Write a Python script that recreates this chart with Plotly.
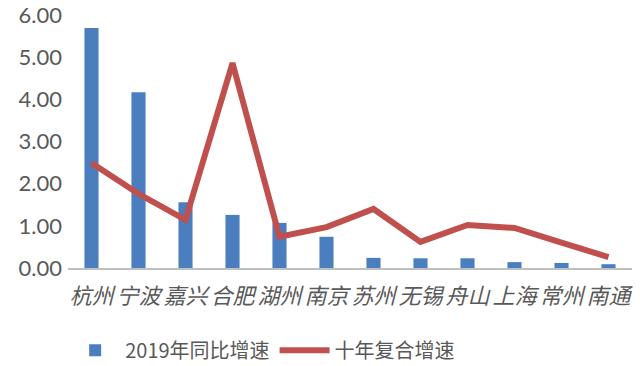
import plotly.graph_objects as go

cities = ["杭州", "宁波", "嘉兴", "合肥", "湖州", "南京", "苏州", "无锡", "舟山", "上海", "常州", "南通"]
yoy_2019 = [5.69, 4.17, 1.56, 1.26, 1.07, 0.74, 0.24, 0.23, 0.23, 0.14, 0.12, 0.09]
cagr_10y = [2.49, 1.76, 1.14, 4.86, 0.74, 0.97, 1.40, 0.62, 1.02, 0.95, 0.60, 0.26]
y_ticks = [0, 1, 2, 3, 4, 5, 6]

fig = go.Figure()
fig.add_trace(go.Bar(x=cities, y=yoy_2019, name="2019年同比增速",
                     marker=dict(color="#4A7EBF", line=dict(width=0))))
fig.add_trace(go.Scatter(x=cities, y=cagr_10y, name="十年复合增速", mode="lines",
                         line=dict(color="#C0504D", width=6)))

fig.update_layout(
    width=640, height=366,
    margin=dict(l=68, r=8, t=15, b=98, autoexpand=False),
    paper_bgcolor="white", plot_bgcolor="white",
    bargap=0.7,
    showlegend=True,
    legend=dict(orientation="h", x=-0.005, xanchor="left", y=-0.325, yanchor="middle",
                font=dict(size=20, color="#595959", family="Noto Sans CJK SC"),
                itemwidth=50),
    font=dict(family="Noto Sans CJK SC", color="#595959"),
)
fig.update_xaxes(showline=True, linecolor="#BFBFBF", linewidth=1.5, ticks="",
                 showgrid=False, automargin=False, ticklabelstandoff=8, tickangle=0,
                 tickfont=dict(size=22, color="#595959", family="Noto Sans CJK SC", style="italic"))
fig.update_yaxes(range=[0, 6], tickvals=y_ticks, tickformat=".2f", showgrid=False,
                 zeroline=False, showline=False, automargin=False, ticklabelstandoff=5,
                 tickfont=dict(size=22, color="#595959", family="Lato"))
fig.write_html("out.html", config={"displayModeBar": False},
               post_script="document.body.style.margin='0px';")
